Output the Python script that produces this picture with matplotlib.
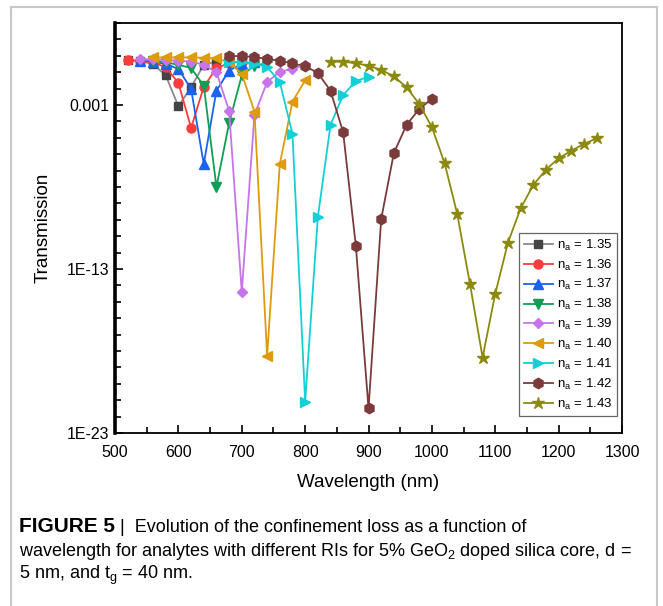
import matplotlib
matplotlib.use("Agg")
import matplotlib.pyplot as plt
import numpy as np
from matplotlib.lines import Line2D
from matplotlib.ticker import FixedLocator, NullFormatter

plt.rcParams['font.family'] = ['Liberation Sans', 'DejaVu Sans']
plt.rcParams['mathtext.fontset'] = 'custom'
plt.rcParams['mathtext.rm'] = 'Liberation Sans'
plt.rcParams['mathtext.it'] = 'Liberation Sans:italic'
plt.rcParams['mathtext.bf'] = 'Liberation Sans:bold'

# ---- data (log10 of transmission) ----
wl_135 = [520, 540, 560, 580, 600, 620, 640, 660]
lg_135 = [-0.28, -0.33, -0.5, -1.2, -3.08, -1.92, -0.55, -0.35]

wl_136 = [520, 540, 560, 580, 600, 620, 640, 660, 680, 700]
lg_136 = [-0.26, -0.3, -0.4, -0.7, -1.66, -4.4, -1.9, -0.75, -0.45, -0.35]

wl_137 = [540, 560, 580, 600, 620, 640, 660, 680, 700, 720]
lg_137 = [-0.3, -0.35, -0.5, -0.8, -2.02, -6.6, -2.13, -0.9, -0.5, -0.4]

wl_138 = [560, 580, 600, 620, 640, 660, 680, 700, 720, 740]
lg_138 = [-0.3, -0.4, -0.55, -0.75, -1.82, -8.0, -4.1, -1.2, -0.6, -0.45]

wl_139 = [540, 560, 580, 600, 620, 640, 660, 680, 700, 720, 740, 760, 780, 800]
lg_139 = [-0.2, -0.22, -0.25, -0.3, -0.35, -0.55, -1.0, -3.35, -14.4, -3.6, -1.6, -0.97, -0.8, -0.55]

wl_140 = [560, 580, 600, 620, 640, 660, 680, 700, 720, 740, 760, 780, 800]
lg_140 = [-0.1, -0.1, -0.1, -0.1, -0.12, -0.15, -0.4, -1.1, -3.4, -18.3, -6.6, -2.8, -1.5]

wl_141 = [680, 700, 720, 740, 760, 780, 800, 820, 840, 860, 880, 900]
lg_141 = [-0.35, -0.4, -0.5, -0.68, -1.6, -4.77, -21.1, -9.85, -4.22, -2.39, -1.55, -1.27]

wl_142 = [680, 700, 720, 740, 760, 780, 800, 820, 840, 860, 880, 900, 920, 940, 960, 980, 1000]
lg_142 = [0.0, -0.03, -0.07, -0.2, -0.3, -0.47, -0.63, -1.05, -2.13, -4.67, -11.6, -21.5,
          -9.95, -5.93, -4.22, -3.24, -2.63]

wl_143 = [840, 860, 880, 900, 920, 940, 960, 980, 1000, 1020, 1040, 1060, 1080, 1100,
          1120, 1140, 1160, 1180, 1200, 1220, 1240, 1260]
lg_143 = [-0.36, -0.36, -0.46, -0.6, -0.87, -1.25, -1.92, -2.94, -4.36, -6.54, -9.65, -13.9,
          -18.4, -14.5, -11.4, -9.3, -7.88, -6.94, -6.25, -5.79, -5.38, -5.03]

labels = ['1.35', '1.36', '1.37', '1.38', '1.39', '1.40', '1.41', '1.42', '1.43']
xticks = [500, 600, 700, 800, 900, 1000, 1100, 1200, 1300]
yticks = [1e-23, 1e-13, 1e-3]
ytick_labels = ['1E-23', '1E-13', '0.001']

series = [(wl_135, lg_135), (wl_136, lg_136), (wl_137, lg_137), (wl_138, lg_138),
          (wl_139, lg_139), (wl_140, lg_140), (wl_141, lg_141), (wl_142, lg_142),
          (wl_143, lg_143)]

styles = [
    dict(color='#8a8a8a', mfc='#444444', mec='#444444', marker='s', ms=6.0),
    dict(color='#ff3b3b', mfc='#ff3b3b', mec='#ff3b3b', marker='o', ms=6.5),
    dict(color='#1a62f0', mfc='#1a62f0', mec='#1a62f0', marker='^', ms=7.0),
    dict(color='#0f9e55', mfc='#0f9e55', mec='#0f9e55', marker='v', ms=7.0),
    dict(color='#c774ea', mfc='#c774ea', mec='#c774ea', marker='D', ms=5.5),
    dict(color='#de9b0c', mfc='#de9b0c', mec='#de9b0c', marker='<', ms=7.0),
    dict(color='#12d0d6', mfc='#12d0d6', mec='#12d0d6', marker='>', ms=7.0),
    dict(color='#7b3b3b', mfc='#7b3b3b', mec='#7b3b3b', marker='h', ms=7.5),
    dict(color='#8c8a0e', mfc='#8c8a0e', mec='#8c8a0e', marker='*', ms=9.0),
]

fig = plt.figure(figsize=(6.63, 6.06), dpi=100)
ax = fig.add_axes([0.1735, 0.2855, 0.7647, 0.6766])

for (wl, lg), lab, st in zip(series, labels, styles):
    ax.plot(wl, 10.0 ** np.array(lg), lw=1.3, label='n$_\\mathrm{a}$ = ' + lab, **st)

ax.set_yscale('log')
ax.set_xlim(500, 1300)
ax.set_ylim(1e-23, 1e2)
ax.set_xticks(xticks)
ax.set_xticklabels([str(v) for v in xticks], fontsize=11.5)
ax.xaxis.set_minor_locator(FixedLocator(np.arange(550, 1300, 100)))
ax.yaxis.set_major_locator(FixedLocator(yticks))
ax.set_yticklabels(ytick_labels, fontsize=11.5)
ax.yaxis.set_minor_locator(FixedLocator([10.0 ** k for k in range(-23, 3)]))
ax.yaxis.set_minor_formatter(NullFormatter())
ax.tick_params(which='both', direction='in', top=False, right=False, color='black')
ax.tick_params(which='major', length=6, width=1.2)
ax.tick_params(axis='x', which='major', pad=9)
ax.tick_params(axis='y', which='major', pad=4)
ax.tick_params(which='minor', length=4, width=1.2)
for s in ['top', 'right', 'bottom']:
    ax.spines[s].set_linewidth(1.3)
ax.spines['left'].set_linewidth(2.6)

ax.set_xlabel('Wavelength (nm)', fontsize=13.5, labelpad=10)
ax.set_ylabel('Transmission', fontsize=13.5, labelpad=11)

leg = ax.legend(loc='lower right', bbox_to_anchor=(0.99, 0.041), fontsize=9.5,
                frameon=True, fancybox=False, edgecolor='#666666', framealpha=1,
                handlelength=2.2, labelspacing=0.36, handletextpad=0.3,
                borderpad=0.35, borderaxespad=0)
leg.get_frame().set_linewidth(0.9)

# figure frame
fc = '#c8c8c8'
fig.add_artist(Line2D([11/663, 11/663], [0, 1 - 7/606], transform=fig.transFigure, color=fc, lw=1.5))
fig.add_artist(Line2D([11/663, 657/663], [1 - 7/606, 1 - 7/606], transform=fig.transFigure, color=fc, lw=1.5))
fig.add_artist(Line2D([657/663, 657/663], [0, 1 - 7/606], transform=fig.transFigure, color=fc, lw=1.5))

# caption
cap_fs = 13
x0 = 19/663
t1 = fig.text(x0, 1 - 527/606, 'FIGURE 5', fontsize=15, fontweight='bold', va='center')
fig.canvas.draw()
r = fig.canvas.get_renderer()
bb = t1.get_window_extent(r)
fig.text((bb.x1 + 5)/663, 1 - 527/606, '|  Evolution of the confinement loss as a function of',
         fontsize=cap_fs, va='center')
fig.text(x0, 1 - 551/606,
         'wavelength for analytes with different RIs for 5% GeO$_2$ doped silica core, d =',
         fontsize=cap_fs, va='center')
fig.text(x0, 1 - 575/606, '5 nm, and t$_\\mathrm{g}$ = 40 nm.', fontsize=cap_fs, va='center')

fig.savefig('out.png', dpi=100)
